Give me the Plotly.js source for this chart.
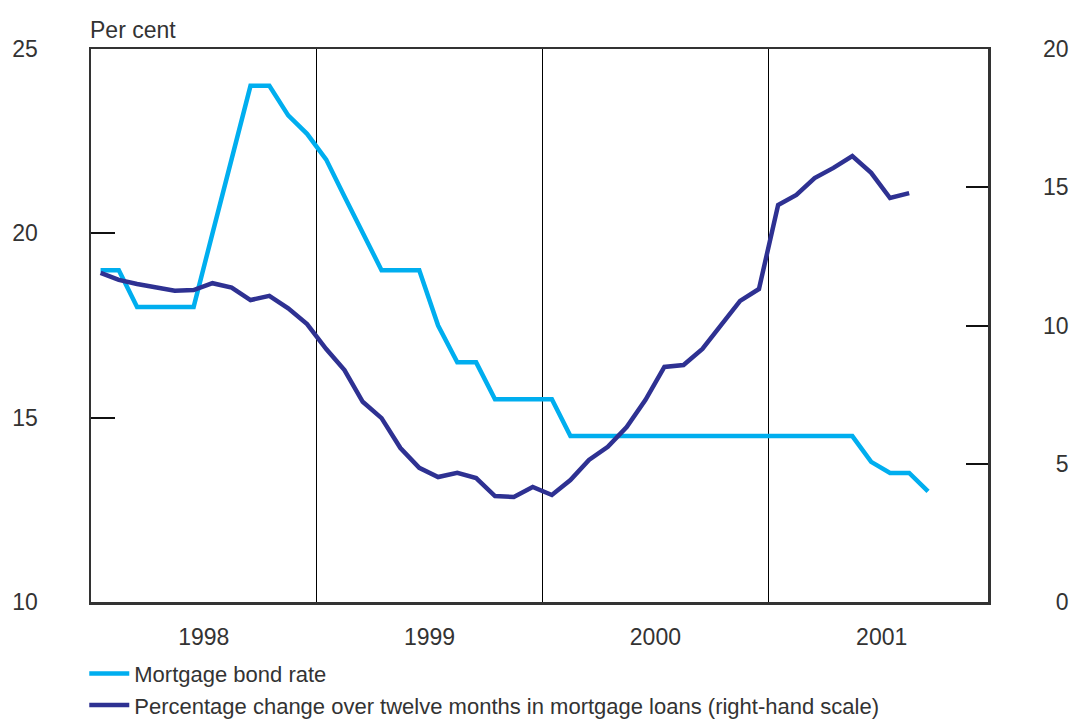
<!DOCTYPE html>
<html>
<head>
<meta charset="utf-8">
<script src="https://cdn.plot.ly/plotly-3.0.1.min.js"></script>
<style>html,body{margin:0;padding:0;background:#fff;}#chart{width:1072px;height:720px;}</style>
</head>
<body>
<div id="chart"></div>
<script>
const months = [
  "1998-01","1998-02","1998-03","1998-04","1998-05","1998-06","1998-07","1998-08","1998-09","1998-10","1998-11","1998-12",
  "1999-01","1999-02","1999-03","1999-04","1999-05","1999-06","1999-07","1999-08","1999-09","1999-10","1999-11","1999-12",
  "2000-01","2000-02","2000-03","2000-04","2000-05","2000-06","2000-07","2000-08","2000-09","2000-10","2000-11","2000-12",
  "2001-01","2001-02","2001-03","2001-04","2001-05","2001-06","2001-07","2001-08","2001-09"
];
const bondRate = [
  19.0,19.0,18.0,18.0,18.0,18.0,20.0,22.0,24.0,24.0,23.2,22.7,
  22.0,21.0,20.0,19.0,19.0,19.0,17.5,16.5,16.5,15.5,15.5,15.5,
  15.5,14.5,14.5,14.5,14.5,14.5,14.5,14.5,14.5,14.5,14.5,14.5,
  14.5,14.5,14.5,14.5,14.5,13.8,13.5,13.5,13.0
];
const loanGrowth = [
  11.9,11.65,11.5,11.38,11.26,11.28,11.53,11.37,10.92,11.07,10.62,10.05,
  9.15,8.39,7.24,6.65,5.57,4.85,4.52,4.67,4.48,3.83,3.80,4.16,
  3.87,4.41,5.14,5.61,6.33,7.31,8.50,8.57,9.15,10.02,10.89,11.32,
  14.36,14.72,15.33,15.70,16.13,15.52,14.61,14.79
];
const seriesNames = ["Mortgage bond rate", "Percentage change over twelve months in mortgage loans (right-hand scale)"];
const leftTicks = [10, 15, 20, 25];
const rightTicks = [0, 5, 10, 15, 20];
const rightTickText = ["\u20070", "\u20075", "10", "15", "20"];
const yLabel = "Per cent";

const FONT = "Liberation Sans, Arial, sans-serif";
const TXT = "#333333";
const FS = 23;

const traces = [
  {
    x: months, y: bondRate, name: seriesNames[0], type: "scatter", mode: "lines",
    xperiod: "M1", xperiodalignment: "middle",
    line: {color: "#00aeef", width: 4.5}, yaxis: "y"
  },
  {
    x: months.slice(0, loanGrowth.length), y: loanGrowth, name: seriesNames[1], type: "scatter", mode: "lines",
    xperiod: "M1", xperiodalignment: "middle",
    line: {color: "#2e3192", width: 4.5}, yaxis: "y2"
  }
];

const layout = {
  width: 1072, height: 720,
  margin: {l: 91, r: 84, t: 49, b: 118, pad: 0},
  paper_bgcolor: "#fff", plot_bgcolor: "#fff",
  font: {family: FONT, size: FS, color: TXT},
  showlegend: true,
  legend: {
    orientation: "v", xref: "paper", yref: "container",
    x: -0.0075, xanchor: "left", y: 0.0935, yanchor: "top",
    itemwidth: 40,
    font: {family: FONT, size: 22, color: TXT}, bgcolor: "rgba(0,0,0,0)",
    traceorder: "normal", tracegroupgap: 0
  },
  xaxis: {
    type: "date",
    range: ["1998-01-01", "2001-12-22"],
    dtick: "M12", tick0: "1998-01-01",
    ticklabelmode: "period", tickformat: "%Y",
    ticks: "", showgrid: true, gridcolor: "#000", gridwidth: 1.2,
    showline: true, linecolor: "#333", linewidth: 2.5, mirror: true,
    zeroline: false, fixedrange: true,
    ticklabelstandoff: 13,
    tickfont: {family: FONT, size: FS, color: TXT}
  },
  yaxis: {
    range: [10, 25], tickvals: leftTicks,
    ticks: "inside", ticklen: 24, tickwidth: 2, tickcolor: "#111",
    showgrid: false, zeroline: false,
    showline: true, linecolor: "#333", linewidth: 2.5, mirror: true,
    ticklabelstandoff: 46,
    tickfont: {family: FONT, size: FS, color: TXT}
  },
  yaxis2: {
    range: [0, 20], tickvals: rightTicks, ticktext: rightTickText,
    overlaying: "y", side: "right",
    ticks: "inside", ticklen: 22, tickwidth: 2, tickcolor: "#111",
    showgrid: false, zeroline: false, showline: false,
    ticklabelstandoff: 54,
    tickfont: {family: FONT, size: FS, color: TXT}
  },
  annotations: [{
    text: yLabel, xref: "paper", yref: "paper", x: 0, y: 1,
    xanchor: "left", yanchor: "bottom", yshift: 4, xshift: -3, showarrow: false,
    font: {family: FONT, size: FS, color: TXT}
  }]
};

Plotly.newPlot("chart", traces, layout, {displayModeBar: false, staticPlot: true});
</script>
</body>
</html>
